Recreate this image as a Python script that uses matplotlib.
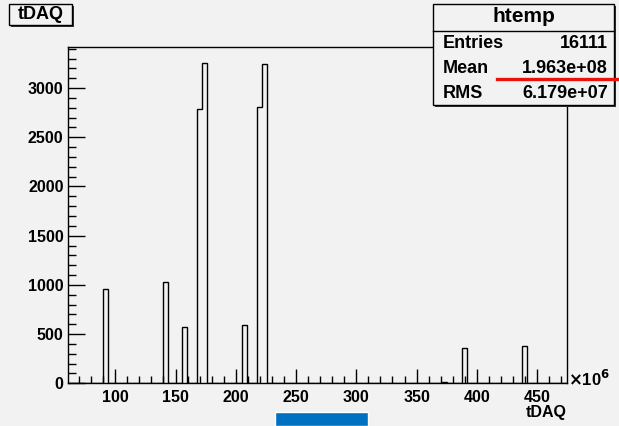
import numpy as np
import matplotlib
matplotlib.use('Agg')
import matplotlib.pyplot as plt
from matplotlib.patches import Rectangle
from matplotlib.lines import Line2D

# histogram htemp: 100 bins, x in units of 1e6
x_min, x_max = 60.5, 474.6
n_bins = 100
bin_index = [7, 19, 23, 26, 27, 35, 38, 39, 75, 79, 87, 91]
bin_count = [960, 1025, 575, 2792, 3259, 590, 2810, 3240, 15, 355, 5, 379]

stat_names = ['Entries', 'Mean', 'RMS']
stat_values = ['16111', '1.963e+08', '6.179e+07']

W, H = 619, 426
bg = '#f2f2f2'
plt.rcParams['font.family'] = ['Liberation Sans', 'DejaVu Sans']
plt.rcParams['font.weight'] = 'bold'

def px(x, y):
    return x / W, 1 - y / H

fig = plt.figure(figsize=(W / 100, H / 100), dpi=100, facecolor=bg)
l, b = px(67.7, 383.3)
r, t = px(566.7, 46.7)
ax = fig.add_axes([l, b, r - l, t - b], facecolor=bg)

edges = np.linspace(x_min, x_max, n_bins + 1)
counts = np.zeros(n_bins)
counts[bin_index] = bin_count
ax.stairs(counts, edges, color='black', lw=1.0, baseline=0)

ax.set_xlim(x_min, x_max)
ax.set_ylim(0, 3420)
ax.set_xticks(np.arange(100, 451, 50))
ax.set_xticks(np.arange(70, 475, 10), minor=True)
ax.set_yticks(np.arange(0, 3001, 500))
ax.set_yticks(np.arange(0, 3401, 100), minor=True)
ax.tick_params(axis='x', which='major', direction='in', length=10, width=1, pad=5, labelsize=11.5)
ax.tick_params(axis='x', which='minor', direction='in', length=5, width=1)
ax.tick_params(axis='y', which='major', direction='in', length=12, width=1, pad=3, labelsize=11.5)
ax.tick_params(axis='y', which='minor', direction='in', length=6, width=1)
for s in ax.spines.values():
    s.set_linewidth(1)

# exponent and axis title, ROOT style
fig.text(*px(568, 379), r'$\times$10$^{\mathbf{6}}$', fontsize=12, fontweight='bold', va='center', ha='left')
fig.text(*px(566.7, 413), 'tDAQ', fontsize=11.5, fontweight='bold', ha='right', va='center')

def pave(x0, y0, x1, y1):
    fx0, fy1 = px(x0, y0)
    fx1, fy0 = px(x1, y1)
    dx, dy = 2 / W, 2 / H
    fig.add_artist(Rectangle((fx0 + dx, fy0 - dy), fx1 - fx0, fy1 - fy0,
                             transform=fig.transFigure, facecolor='#333333', edgecolor='none'))
    fig.add_artist(Rectangle((fx0, fy0), fx1 - fx0, fy1 - fy0,
                             transform=fig.transFigure, facecolor=bg, edgecolor='black', lw=1))

# title box
pave(9, 4, 72, 25)
fig.text(*px(40.5, 14.5), 'tDAQ', fontsize=13, fontweight='bold', ha='center', va='center')

# stats box
pave(433.3, 4, 614, 105)
fig.text(*px(523.7, 17), 'htemp', fontsize=15, fontweight='bold', ha='center', va='center')
fig.add_artist(Line2D([433.3 / W, 614 / W], [1 - 30.7 / H] * 2, transform=fig.transFigure, color='black', lw=1))
for i, (name, val) in enumerate(zip(stat_names, stat_values)):
    y = 43.5 + i * 25
    fig.text(*px(442.7, y), name, fontsize=13, fontweight='bold', ha='left', va='center')
    fig.text(*px(608, y), val, fontsize=13, fontweight='bold', ha='right', va='center')

# red underline and blue block
fig.add_artist(Line2D([497 / W, 1.0], [1 - 79.3 / H] * 2, transform=fig.transFigure, color='#e8120f', lw=2.4))
bx0, by0 = px(275, 426)
bx1, by1 = px(368.3, 412.3)
fig.add_artist(Rectangle((bx0, by0), bx1 - bx0, by1 - by0, transform=fig.transFigure,
                         facecolor='#0070c0', edgecolor='white', lw=1))

fig.savefig('out.png', dpi=100, facecolor=bg)
